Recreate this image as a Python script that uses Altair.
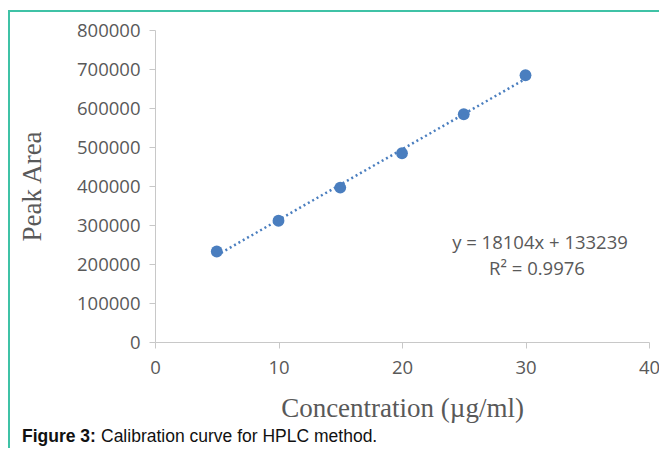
import altair as alt
import pandas as pd

concentration = [5, 10, 15, 20, 25, 30]
peak_area = [232000, 311000, 396000, 484000, 584000, 684000]
y_ticks = [0, 100000, 200000, 300000, 400000, 500000, 600000, 700000, 800000]
x_ticks = [0, 10, 20, 30, 40]
equation_line = "y = 18104x + 133239"
r2_line = "R² = 0.9976"
caption_bold = "Figure 3:"
caption_rest = "Calibration curve for HPLC method."

df = pd.DataFrame({"c": concentration, "a": peak_area})
blue = "#4a7ebf"
grey = "#595959"
teal = "#3fc2a6"

xs = alt.Scale(domain=[0, 40], nice=False)
ys = alt.Scale(domain=[0, 800000], nice=False)

x_axis = alt.Axis(
    values=x_ticks, title="Concentration (µg/ml)", grid=False, labelFlush=False,
    domainColor="#c8c8c8", tickColor="#c8c8c8", tickSize=6,
    labelFont="Open Sans", labelFontSize=18.5, labelColor=grey, labelPadding=10,
    titleFont="Liberation Serif", titleFontSize=27, titleFontWeight="normal",
    titleColor=grey, titleY=66, titleBaseline="middle")
y_axis = alt.Axis(
    values=y_ticks, format="d", title="Peak Area", grid=False, labelFlush=False,
    domainColor="#c8c8c8", tickColor="#c8c8c8", tickSize=6,
    labelFont="Open Sans", labelFontSize=18.5, labelColor=grey, labelPadding=9,
    titleFont="Liberation Serif", titleFontSize=27, titleFontWeight="normal",
    titleColor=grey, titleX=-123, titleBaseline="middle")

base = alt.Chart(df)

points = base.mark_circle(size=140, opacity=1, color=blue).encode(
    x=alt.X("c:Q", scale=xs, axis=x_axis),
    y=alt.Y("a:Q", scale=ys, axis=y_axis),
)

trend = base.transform_regression("c", "a").mark_line(
    color=blue, strokeWidth=2.5, strokeDash=[2, 3]
).encode(x=alt.X("c:Q", scale=xs, axis=x_axis), y=alt.Y("a:Q", scale=ys, axis=y_axis))

one = pd.DataFrame({"k": [0]})

eq1 = alt.Chart(pd.DataFrame({"t": [equation_line]})).mark_text(
    font="Open Sans", fontSize=18.5, color=grey, align="center", baseline="middle"
).encode(text="t:N", x=alt.value(385), y=alt.value(213))
eq2 = alt.Chart(pd.DataFrame({"t": [r2_line]})).mark_text(
    font="Open Sans", fontSize=18.5, color=grey, align="center", baseline="middle"
).encode(text="t:N", x=alt.value(382), y=alt.value(239))

frame_left = alt.Chart(one).mark_rule(color=teal, strokeWidth=2).encode(
    x=alt.value(-146), y=alt.value(-20), y2=alt.value(420))
frame_top = alt.Chart(one).mark_rule(color=teal, strokeWidth=2).encode(
    x=alt.value(-146), x2=alt.value(510), y=alt.value(-19))

cap1 = alt.Chart(pd.DataFrame({"t": [caption_bold]})).mark_text(
    font="Liberation Sans", fontSize=17.5, fontWeight="bold", color="#111111",
    align="left", baseline="middle").encode(text="t:N", x=alt.value(-133), y=alt.value(407))
cap2 = alt.Chart(pd.DataFrame({"t": [caption_rest]})).mark_text(
    font="Liberation Sans", fontSize=17.5, color="#111111",
    align="left", baseline="middle").encode(text="t:N", x=alt.value(-54), y=alt.value(407))

chart = alt.layer(points, trend, frame_left, frame_top, eq1, eq2, cap1, cap2).properties(
    width=494, height=312,
    autosize=alt.AutoSizeParams(type="none"),
    padding={"left": 147, "top": 22, "right": 10, "bottom": 106},
).configure_view(stroke=None)

chart.save("out.html", embed_options={"renderer": "svg", "actions": False})
